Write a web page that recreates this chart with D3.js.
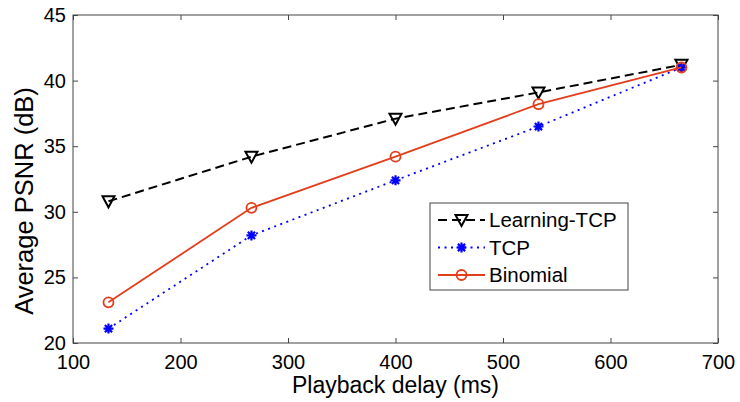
<!DOCTYPE html>
<html><head><meta charset="utf-8">
<script src="https://cdn.jsdelivr.net/npm/d3@7"></script>
<style>body{margin:0;background:#fff}text{font-family:"Liberation Sans",Arial,sans-serif;fill:#000}</style>
</head><body><svg id="c" width="740" height="402"></svg>
<script>
const delays = [133, 266, 400, 533, 666];
const learningTCP = [30.8, 34.2, 37.1, 39.1, 41.2];
const tcp = [21.1, 28.2, 32.4, 36.5, 41.0];
const binomial = [23.1, 30.3, 34.2, 38.2, 41.0];
const xTicks = [100, 200, 300, 400, 500, 600, 700];
const yTicks = [20, 25, 30, 35, 40, 45];
const seriesNames = ["Learning-TCP", "TCP", "Binomial"];

const svg = d3.select("#c");
const L = 73, R = 718, T = 15, B = 343;
const x = d3.scaleLinear().domain([100, 700]).range([L, R]);
const y = d3.scaleLinear().domain([20, 45]).range([B, T]);
const axisColor = "#444";

// axes
const gx = svg.append("g").attr("transform", `translate(0,${B})`)
  .call(d3.axisBottom(x).tickValues(xTicks).tickSizeInner(-5).tickSizeOuter(0).tickPadding(12));
const gxt = svg.append("g").attr("transform", `translate(0,${T})`)
  .call(d3.axisTop(x).tickValues(xTicks).tickSizeInner(-5).tickSizeOuter(0).tickFormat(""));
const gy = svg.append("g").attr("transform", `translate(${L},0)`)
  .call(d3.axisLeft(y).tickValues(yTicks).tickSizeInner(-5).tickSizeOuter(0).tickPadding(7));
const gyr = svg.append("g").attr("transform", `translate(${R},0)`)
  .call(d3.axisRight(y).tickValues(yTicks).tickSizeInner(-5).tickSizeOuter(0).tickFormat(""));
[gx, gxt, gy, gyr].forEach(g => {
  g.selectAll("path.domain").remove();
  g.selectAll("line").attr("stroke", axisColor);
  g.selectAll("text").attr("font-size", 20).attr("fill", "#000").style("font-family", "Liberation Sans, Arial, sans-serif");
});
svg.append("rect").attr("x", L).attr("y", T).attr("width", R - L).attr("height", B - T)
  .attr("fill", "none").attr("stroke", axisColor).attr("stroke-width", 1);

// labels
svg.append("text").attr("x", (L + R) / 2).attr("y", 393).attr("text-anchor", "middle")
  .attr("font-size", 23).text("Playback delay (ms)");
svg.append("text").attr("transform", `translate(33,${(T + B) / 2 + 22}) rotate(-90)`)
  .attr("text-anchor", "middle").attr("font-size", 25.5).text("Average PSNR (dB)");

const line = d3.line().x(d => x(d[0])).y(d => y(d[1]));
const pts = vals => delays.map((d, i) => [d, vals[i]]);

function triDown(g, cx, cy, col) {
  g.append("path").attr("d", `M${cx-6},${cy-5}L${cx+6},${cy-5}L${cx},${cy+6}Z`)
    .attr("fill", "none").attr("stroke", col).attr("stroke-width", 2);
}
function star(g, cx, cy, col) {
  const s = 5, d = 3.6;
  g.append("path").attr("d", `M${cx-s},${cy}L${cx+s},${cy}M${cx},${cy-s}L${cx},${cy+s}M${cx-d},${cy-d}L${cx+d},${cy+d}M${cx-d},${cy+d}L${cx+d},${cy-d}`)
    .attr("stroke", col).attr("stroke-width", 2.2);
}
function circ(g, cx, cy, col) {
  g.append("circle").attr("cx", cx).attr("cy", cy).attr("r", 5)
    .attr("fill", "none").attr("stroke", col).attr("stroke-width", 1.8);
}

const series = [
  {name: seriesNames[0], vals: learningTCP, col: "#000", dash: "9,5", w: 2, mk: triDown},
  {name: seriesNames[1], vals: tcp, col: "#0000ff", dash: "2,4.5", w: 1.8, mk: star},
  {name: seriesNames[2], vals: binomial, col: "#e43d1a", dash: null, w: 1.8, mk: circ},
];
series.forEach(s => {
  const g = svg.append("g");
  g.append("path").datum(pts(s.vals)).attr("d", line).attr("fill", "none")
    .attr("stroke", s.col).attr("stroke-width", s.w).attr("stroke-dasharray", s.dash);
  pts(s.vals).forEach(p => s.mk(g, x(p[0]), y(p[1]), s.col));
});

// legend
const lg = svg.append("g");
lg.append("rect").attr("x", 430).attr("y", 203).attr("width", 198).attr("height", 87)
  .attr("fill", "#fff").attr("stroke", axisColor);
series.forEach((s, i) => {
  const ly = 220 + i * 27.5;
  lg.append("line").attr("x1", 438).attr("x2", 485).attr("y1", ly).attr("y2", ly)
    .attr("stroke", s.col).attr("stroke-width", s.w).attr("stroke-dasharray", s.dash);
  s.mk(lg, 461.5, ly, s.col);
  lg.append("text").attr("x", 489).attr("y", ly + 7).attr("font-size", 20.5).text(s.name);
});
</script></body></html>
